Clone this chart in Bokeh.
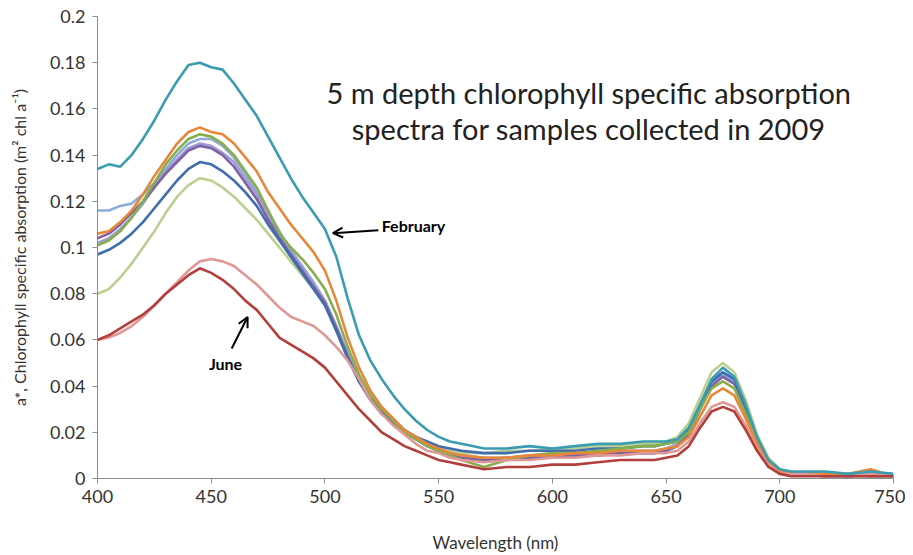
from bokeh.plotting import figure
from bokeh.models import Range1d, FixedTicker, CustomJSTickFormatter, Label, Arrow, OpenHead
from bokeh.embed import file_html
from bokeh.resources import INLINE

# Wavelength grid (nm)
wavelength = [400, 405, 410, 415, 420, 425, 430, 435, 440, 445, 450, 455, 460, 465, 470, 475, 480,
              485, 490, 495, 500, 505, 510, 515, 520, 525, 530, 535, 540, 545, 550, 555, 560,
              570, 580, 590, 600, 610, 620, 630,
              640, 645, 650, 655, 660, 665, 670, 675, 680, 685, 690, 695, 700, 705, 710,
              720, 730, 740, 750]

# Chlorophyll specific absorption a* (m2 chl a-1) per sample
feb_teal = [0.134, 0.136, 0.135, 0.140, 0.147, 0.155, 0.164, 0.172, 0.179, 0.180, 0.178, 0.177, 0.171, 0.164, 0.157, 0.148, 0.139,
            0.130, 0.122, 0.115, 0.108, 0.096, 0.078, 0.062, 0.051, 0.043, 0.036, 0.030, 0.025, 0.021, 0.018, 0.016, 0.015,
            0.013, 0.013, 0.014, 0.013, 0.014, 0.015, 0.015,
            0.016, 0.016, 0.016, 0.017, 0.022, 0.032, 0.043, 0.048, 0.044, 0.032, 0.018, 0.008, 0.004, 0.003, 0.003,
            0.003, 0.002, 0.003, 0.002]
orange = [0.106, 0.107, 0.111, 0.116, 0.123, 0.131, 0.138, 0.145, 0.150, 0.152, 0.150, 0.149, 0.145, 0.139, 0.133, 0.124, 0.117,
          0.110, 0.104, 0.098, 0.090, 0.077, 0.061, 0.048, 0.038, 0.031, 0.026, 0.021, 0.018, 0.015, 0.013, 0.011, 0.010,
          0.009, 0.009, 0.010, 0.010, 0.011, 0.011, 0.012,
          0.012, 0.012, 0.013, 0.014, 0.018, 0.027, 0.036, 0.039, 0.036, 0.026, 0.015, 0.007, 0.003, 0.002, 0.002,
          0.002, 0.002, 0.004, 0.001]
green = [0.101, 0.103, 0.107, 0.113, 0.120, 0.128, 0.136, 0.142, 0.147, 0.149, 0.148, 0.145, 0.140, 0.133, 0.126, 0.116, 0.106,
         0.100, 0.095, 0.089, 0.082, 0.071, 0.057, 0.045, 0.036, 0.030, 0.025, 0.020, 0.017, 0.014, 0.012, 0.010, 0.008,
         0.005, 0.008, 0.010, 0.011, 0.011, 0.012, 0.013,
         0.014, 0.014, 0.015, 0.016, 0.020, 0.030, 0.039, 0.042, 0.039, 0.028, 0.016, 0.007, 0.003, 0.002, 0.002,
         0.001, 0.002, 0.001, 0.001]
sky = [0.116, 0.116, 0.118, 0.119, 0.123, 0.128, 0.134, 0.140, 0.145, 0.147, 0.147, 0.144, 0.139, 0.132, 0.124, 0.116, 0.107,
       0.099, 0.092, 0.085, 0.077, 0.066, 0.054, 0.043, 0.035, 0.029, 0.025, 0.021, 0.018, 0.015, 0.013, 0.011, 0.010,
       0.009, 0.009, 0.010, 0.010, 0.011, 0.011, 0.012,
       0.012, 0.012, 0.013, 0.015, 0.020, 0.031, 0.041, 0.045, 0.042, 0.031, 0.017, 0.008, 0.003, 0.002, 0.002,
       0.002, 0.001, 0.002, 0.001]
purple = [0.104, 0.106, 0.110, 0.115, 0.120, 0.126, 0.132, 0.137, 0.142, 0.144, 0.143, 0.140, 0.135, 0.128, 0.121, 0.112, 0.104,
          0.097, 0.090, 0.083, 0.076, 0.065, 0.053, 0.042, 0.034, 0.028, 0.024, 0.020, 0.017, 0.014, 0.012, 0.010, 0.009,
          0.008, 0.009, 0.009, 0.009, 0.010, 0.010, 0.011,
          0.011, 0.011, 0.012, 0.014, 0.019, 0.030, 0.040, 0.044, 0.041, 0.030, 0.016, 0.007, 0.003, 0.002, 0.002,
          0.001, 0.001, 0.002, 0.001]
lavender = [0.102, 0.104, 0.108, 0.113, 0.119, 0.126, 0.133, 0.138, 0.143, 0.145, 0.144, 0.141, 0.137, 0.130, 0.123, 0.114, 0.105,
            0.098, 0.091, 0.084, 0.077, 0.066, 0.054, 0.043, 0.035, 0.028, 0.024, 0.020, 0.017, 0.014, 0.012, 0.010, 0.009,
            0.008, 0.008, 0.009, 0.009, 0.010, 0.010, 0.011,
            0.011, 0.011, 0.012, 0.014, 0.020, 0.031, 0.042, 0.046, 0.043, 0.031, 0.017, 0.008, 0.003, 0.002, 0.002,
            0.002, 0.001, 0.001, 0.001]
blue = [0.097, 0.099, 0.102, 0.106, 0.111, 0.117, 0.123, 0.129, 0.134, 0.137, 0.136, 0.133, 0.129, 0.124, 0.118, 0.110, 0.103,
        0.096, 0.089, 0.082, 0.075, 0.064, 0.052, 0.042, 0.035, 0.029, 0.025, 0.021, 0.018, 0.016, 0.014, 0.013, 0.012,
        0.011, 0.011, 0.012, 0.012, 0.012, 0.013, 0.013,
        0.014, 0.014, 0.015, 0.016, 0.021, 0.032, 0.042, 0.046, 0.043, 0.031, 0.017, 0.008, 0.003, 0.002, 0.002,
        0.002, 0.001, 0.002, 0.001]
light_green = [0.080, 0.082, 0.087, 0.093, 0.100, 0.107, 0.115, 0.122, 0.127, 0.130, 0.129, 0.126, 0.122, 0.117, 0.112, 0.106, 0.100,
               0.094, 0.088, 0.082, 0.075, 0.064, 0.052, 0.042, 0.034, 0.028, 0.024, 0.020, 0.017, 0.015, 0.013, 0.012, 0.011,
               0.011, 0.012, 0.012, 0.013, 0.013, 0.014, 0.014,
               0.015, 0.015, 0.016, 0.018, 0.024, 0.035, 0.046, 0.050, 0.046, 0.034, 0.019, 0.009, 0.004, 0.002, 0.002,
               0.002, 0.001, 0.002, 0.002]
pink = [0.060, 0.061, 0.063, 0.066, 0.070, 0.075, 0.080, 0.085, 0.090, 0.094, 0.095, 0.094, 0.092, 0.088, 0.084, 0.079, 0.074,
        0.070, 0.068, 0.066, 0.062, 0.057, 0.051, 0.043, 0.034, 0.028, 0.023, 0.019, 0.015, 0.012, 0.011, 0.009, 0.008,
        0.007, 0.008, 0.008, 0.009, 0.009, 0.010, 0.010,
        0.011, 0.011, 0.011, 0.012, 0.016, 0.024, 0.031, 0.033, 0.031, 0.023, 0.013, 0.006, 0.002, 0.002, 0.002,
        0.001, 0.001, 0.002, 0.001]
june_red = [0.060, 0.062, 0.065, 0.068, 0.071, 0.075, 0.080, 0.084, 0.088, 0.091, 0.089, 0.086, 0.082, 0.077, 0.073, 0.067, 0.061,
            0.058, 0.055, 0.052, 0.048, 0.042, 0.036, 0.030, 0.025, 0.020, 0.017, 0.014, 0.012, 0.010, 0.008, 0.007, 0.006,
            0.004, 0.005, 0.005, 0.006, 0.006, 0.007, 0.008,
            0.008, 0.008, 0.009, 0.010, 0.014, 0.022, 0.029, 0.031, 0.029, 0.021, 0.012, 0.005, 0.002, 0.001, 0.001,
            0.001, 0.001, 0.001, 0.001]

series = [
    (light_green, "#B9D08F"),
    (sky, "#8FACD8"),
    (lavender, "#A09CD6"),
    (purple, "#7E62A3"),
    (blue, "#3F6DAE"),
    (green, "#86AE4C"),
    (orange, "#E8873A"),
    (pink, "#DE9896"),
    (june_red, "#B23F3C"),
    (feb_teal, "#3A9CB1"),
]

y_ticks = [0, 0.02, 0.04, 0.06, 0.08, 0.1, 0.12, 0.14, 0.16, 0.18, 0.2]
x_ticks = [400, 450, 500, 550, 600, 650, 700, 750]

FONT = "Lato"

p = figure(width=905, height=555, output_backend="svg", toolbar_location=None,
           x_range=Range1d(400, 750), y_range=Range1d(0, 0.2),
           min_border_left=97, min_border_right=12, min_border_top=16, min_border_bottom=70)
p.outline_line_color = None
p.xgrid.visible = False
p.ygrid.visible = False

for vals, col in series:
    p.line(wavelength, vals, line_color=col, line_width=2.6)

p.xaxis.ticker = FixedTicker(ticks=x_ticks)
p.yaxis.ticker = FixedTicker(ticks=y_ticks)
p.yaxis.formatter = CustomJSTickFormatter(code="return String(+tick.toFixed(2));")
for ax in (p.xaxis, p.yaxis):
    ax.axis_line_color = "#8C8C8C"
    ax.major_tick_line_color = "#8C8C8C"
    ax.major_tick_out = 5
    ax.major_tick_in = 0
    ax.minor_tick_line_color = None
    ax.major_label_text_font = FONT
    ax.major_label_text_font_size = "18px"
    ax.major_label_text_color = "#333333"
    ax.axis_label_text_font = FONT
    ax.axis_label_text_font_style = "normal"
    ax.axis_label_text_color = "#333333"

p.xaxis.axis_label = "Wavelength (nm)"
p.yaxis.axis_label = "a*, Chlorophyll specific absorption (m\u00b2 chl a\u207b\u00b9)"
p.xaxis.axis_label_text_font_size = "17px"
p.yaxis.axis_label_text_font_size = "16px"
p.xaxis.major_label_standoff = 6
p.xaxis.axis_label_standoff = 26
p.yaxis.major_label_standoff = 7
p.yaxis.axis_label_standoff = 18

p.add_layout(Label(x=616, y=0.1672, text="5 m depth chlorophyll specific absorption",
                   text_align="center", text_baseline="middle", text_font=FONT,
                   text_font_size="29px", text_color="#222222"))
p.add_layout(Label(x=616, y=0.1514, text="spectra for samples collected in 2009",
                   text_align="center", text_baseline="middle", text_font=FONT,
                   text_font_size="29px", text_color="#222222"))

p.add_layout(Arrow(end=OpenHead(size=10, line_width=2, line_color="black"),
                   x_start=523.5, y_start=0.1075, x_end=503.5, y_end=0.1062,
                   line_width=2, line_color="black"))
p.add_layout(Label(x=525, y=0.1095, text="February", text_align="left", text_baseline="middle",
                   text_font=FONT, text_font_style="bold", text_font_size="16px", text_color="black"))
p.add_layout(Arrow(end=OpenHead(size=10, line_width=2, line_color="black"),
                   x_start=459, y_start=0.0563, x_end=466, y_end=0.0699,
                   line_width=2, line_color="black"))
p.add_layout(Label(x=456.3, y=0.0499, text="June", text_align="center", text_baseline="middle",
                   text_font=FONT, text_font_style="bold", text_font_size="16px", text_color="black"))

open("out.html", "w").write(file_html(p, INLINE))
